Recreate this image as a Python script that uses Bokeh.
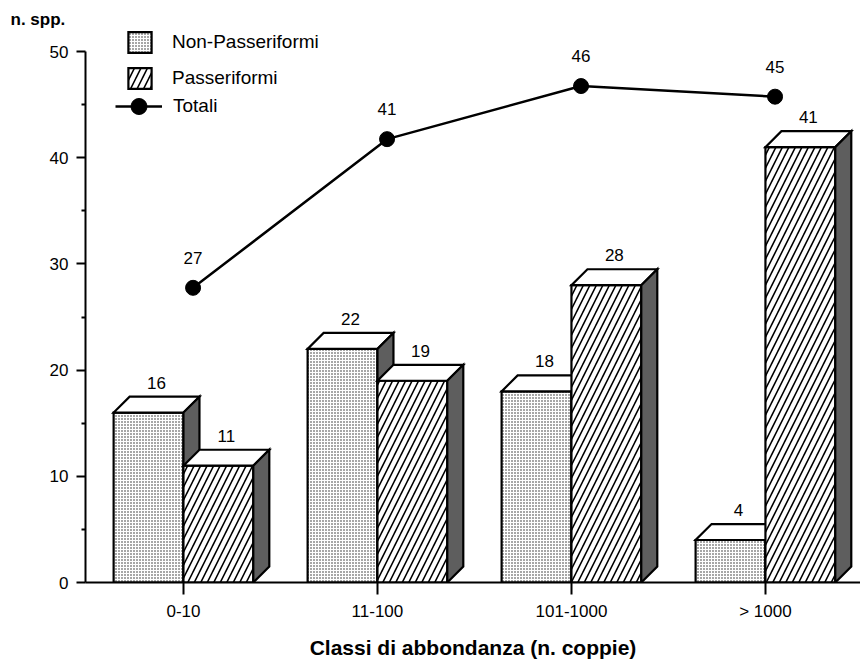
from bokeh.plotting import figure
from bokeh.models import Range1d, FixedTicker, Legend, LegendItem
from bokeh.core.properties import value
from bokeh.embed import file_html
from bokeh.resources import INLINE

# ---- data ----
categories = ["0-10", "11-100", "101-1000", "> 1000"]
non_passeriformi = [16, 22, 18, 4]
passeriformi = [11, 19, 28, 41]
totali = [27, 41, 46, 45]
y_ticks = [0, 10, 20, 30, 40, 50]
y_minor_ticks = [5, 15, 25, 35, 45]

FONT = "Liberation Sans"
BAR_W = 0.36          # width of each bar (category units)
DX = 16 / 194         # 3D depth, x (category units)
DY = 1.5              # 3D depth, y (data units)

p = figure(width=860, height=661, output_backend="svg", toolbar_location=None,
           x_range=Range1d(-0.505, 3.49), y_range=Range1d(0, 52.17),
           min_border_left=85, min_border_right=0, min_border_top=28,
           min_border_bottom=79)
p.outline_line_color = None
p.xgrid.visible = False
p.ygrid.visible = False
p.background_fill_color = "white"

p.title.text = "n. spp."
p.title.align = "left"
p.title.vertical_align = "bottom"
p.title.offset = -75
p.title.text_font = FONT
p.title.text_font_size = "17px"
p.title.text_font_style = "bold"
p.title.text_color = "black"
p.title.standoff = 0


def faces(x0s, x1s, hs):
    front = ([[a, b, b, a] for a, b in zip(x0s, x1s)],
             [[0, 0, h, h] for h in hs])
    top = ([[a, b, b + DX, a + DX] for a, b in zip(x0s, x1s)],
           [[h, h, h + DY, h + DY] for h in hs])
    side = ([[b, b + DX, b + DX, b] for b in x1s],
            [[0, DY, h + DY, h] for h in hs])
    return front, top, side


xs = list(range(len(categories)))
LW = 2.2
SIDE = "#5e5e5e"

# Non-Passeriformi bars
f, t, s = faces([x - BAR_W for x in xs], xs, non_passeriformi)
np_front = p.patches(f[0], f[1], fill_color="white", line_color="black", line_width=LW,
                     hatch_pattern=".", hatch_scale=3, hatch_weight=1.0,
                     hatch_color="#222222", line_join="miter")
p.patches(t[0], t[1], fill_color="white", line_color="black", line_width=LW, line_join="miter")
p.patches(s[0], s[1], fill_color=SIDE, line_color="black", line_width=LW, line_join="miter")

# Passeriformi bars
f, t, s = faces(xs, [x + BAR_W for x in xs], passeriformi)
pa_front = p.patches(f[0], f[1], fill_color="white", line_color="black", line_width=LW,
                     hatch_pattern="/", hatch_scale=13, hatch_weight=1.6,
                     hatch_color="black", line_join="miter")
p.patches(t[0], t[1], fill_color="white", line_color="black", line_width=LW, line_join="miter")
p.patches(s[0], s[1], fill_color=SIDE, line_color="black", line_width=LW, line_join="miter")

# Totali line (drawn at mid depth)
tx = [x + DX * 0.6 for x in xs]
ty = [v + DY * 0.5 for v in totali]
tot_line = p.line(tx, ty, line_color="black", line_width=2.5)
tot_pts = p.scatter(tx, ty, size=15, fill_color="black", line_color="black")

# value labels
lab_kw = dict(text_font=value(FONT), text_font_size="17px", text_align="center",
              text_baseline="alphabetic", text_color="black")
p.text([x - BAR_W / 2 + DX / 2 for x in xs], [v + DY for v in non_passeriformi],
       text=[str(v) for v in non_passeriformi], y_offset=-14, **lab_kw)
p.text([x + BAR_W / 2 + DX / 2 for x in xs], [v + DY for v in passeriformi],
       text=[str(v) for v in passeriformi], y_offset=-14, **lab_kw)
p.text(tx, ty, text=[str(v) for v in totali], y_offset=-30, **lab_kw)

# axes
p.xaxis.ticker = FixedTicker(ticks=xs)
p.xaxis.major_label_overrides = {x: c for x, c in zip(xs, categories)}
p.xaxis.minor_tick_line_color = None
p.xaxis.major_tick_out = 12
p.xaxis.major_tick_in = 0
p.xaxis.axis_line_width = 2
p.xaxis.major_tick_line_width = 2
p.xaxis.major_label_standoff = 7
p.xaxis.major_label_text_font = FONT
p.xaxis.major_label_text_font_size = "17px"
p.xaxis.major_label_text_color = "black"
p.xaxis.axis_label = "Classi di abbondanza (n. coppie)"
p.xaxis.axis_label_text_font = FONT
p.xaxis.axis_label_text_font_size = "21px"
p.xaxis.axis_label_text_font_style = "bold"
p.xaxis.axis_label_text_color = "black"
p.xaxis.axis_label_standoff = 12

p.yaxis.ticker = FixedTicker(ticks=y_ticks, minor_ticks=y_minor_ticks)
p.yaxis.bounds = (y_ticks[0], y_ticks[-1])
p.yaxis.major_tick_out = 9
p.yaxis.major_tick_in = 0
p.yaxis.minor_tick_out = 4
p.yaxis.minor_tick_in = 0
p.yaxis.axis_line_width = 2
p.yaxis.major_tick_line_width = 2
p.yaxis.minor_tick_line_width = 2
p.yaxis.major_label_standoff = 8
p.yaxis.major_label_text_font = FONT
p.yaxis.major_label_text_font_size = "17px"
p.yaxis.major_label_text_color = "black"

# legends
leg_common = dict(padding=0, margin=0, border_line_alpha=0, background_fill_alpha=0,
                  label_text_font=FONT, label_text_font_size="19px",
                  label_text_color="black")
leg1 = Legend(items=[LegendItem(label="Non-Passeriformi", renderers=[np_front]),
                     LegendItem(label="Passeriformi", renderers=[pa_front])],
              location=(40, 491), glyph_width=29, glyph_height=26, label_height=26,
              spacing=10, label_standoff=18, **leg_common)
leg2 = Legend(items=[LegendItem(label="Totali", renderers=[tot_line, tot_pts])],
              location=(30, 456), glyph_width=47, glyph_height=40, label_height=40,
              label_standoff=11, **leg_common)
p.add_layout(leg1)
p.add_layout(leg2)

open("out.html", "w").write(file_html(p, INLINE))
